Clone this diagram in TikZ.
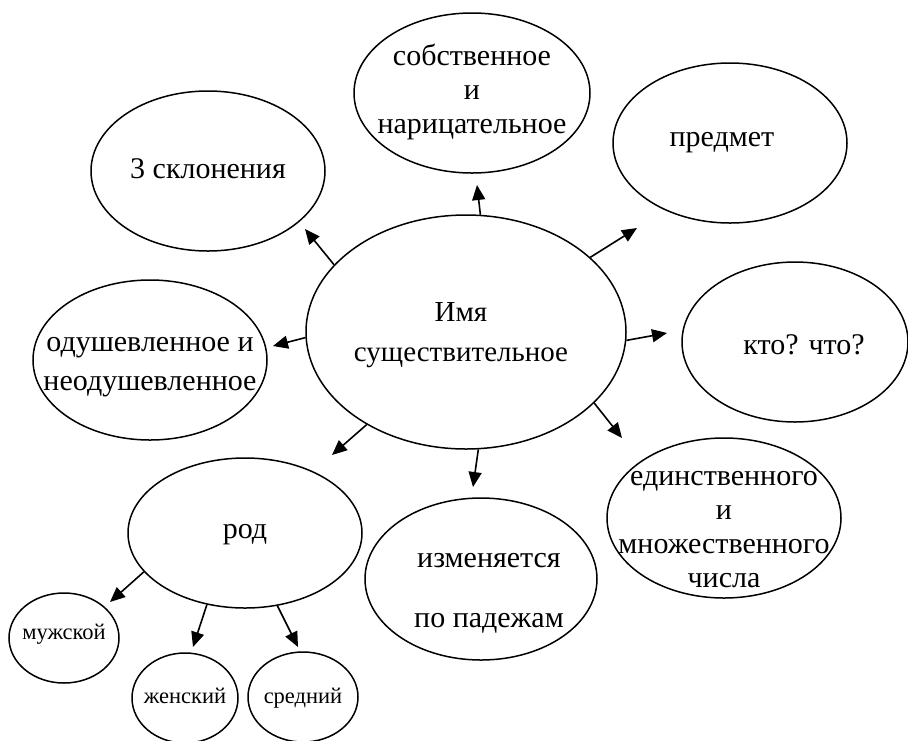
\documentclass[tikz,border=0pt]{standalone}
\usepackage{fontspec}
\setmainfont{Liberation Serif}
\newfontfamily\tnr{Liberation Serif}
\usetikzlibrary{shapes.geometric,arrows.meta}
\begin{document}
\begin{tikzpicture}[x=1pt,y=-1pt,
  ell/.style={draw,ellipse,line width=1.5pt,inner sep=0pt},
  big/.style={align=center,font=\tnr\fontsize{30}{34}\selectfont,inner sep=0pt},
  small/.style={align=center,font=\tnr\fontsize{22.5}{26}\selectfont,inner sep=0pt},
  arr/.style={line width=1.6pt,-{Triangle[length=15pt,width=13pt]}}]
\useasboundingbox (0,0) rectangle (908,740);
\fill[white] (0,0) rectangle (908,740);

\node[ell,minimum width=320pt,minimum height=234pt,
  label={[big,font=\tnr\fontsize{29}{40}\selectfont,xshift=-5pt,yshift=-3.5pt]center:Имя\\существительное}] (c) at (466,332) {};
\node[ell,minimum width=236pt,minimum height=160pt,
  label={[big,yshift=1pt]center:собственное\\и\\нарицательное}] (sob) at (472,93) {};
\node[ell,minimum width=234pt,minimum height=160pt,
  label={[big,xshift=-8pt,yshift=0pt]center:предмет}] (pred) at (730,143) {};
\node[ell,minimum width=234pt,minimum height=160pt,
  label={[big,yshift=2pt]center:3 склонения}] (skl) at (208,171) {};
\node[ell,minimum width=234pt,minimum height=160pt,
  label={[big,font=\tnr\fontsize{30}{39}\selectfont,yshift=-7.5pt]center:одушевленное и\\неодушевленное}] (odu) at (150,360) {};
\node[ell,minimum width=226pt,minimum height=160pt,
  label={[big,xshift=9pt,yshift=-3pt]center:кто? что?}] (kto) at (795,342) {};
\node[ell,minimum width=234pt,minimum height=160pt,
  label={[big,yshift=-12pt]center:единственного\\и\\множественного\\числа}] (edi) at (724,518) {};
\node[ell,minimum width=234pt,minimum height=150pt,
  label={[big,yshift=-2pt]center:род}] (rod) at (245,533) {};
\node[ell,minimum width=232pt,minimum height=162pt,
  label={[big,font=\tnr\fontsize{30}{60}\selectfont,xshift=8pt,yshift=-14pt]center:изменяется\\по падежам}] (izm) at (481,579) {};
\node[ell,minimum width=110pt,minimum height=90pt,
  label={[small,yshift=4pt]center:мужской}] (muz) at (64,638) {};
\node[ell,minimum width=106pt,minimum height=90pt,
  label={[small,yshift=2pt]center:женский}] (zhen) at (185,698) {};
\node[ell,minimum width=110pt,minimum height=90pt,
  label={[small,yshift=-1pt]center:средний}] (sred) at (303,697) {};

\coordinate (tskl) at (305,229);
\coordinate (tsob) at (477,185);
\coordinate (tpred) at (637,228);
\coordinate (tkto) at (667,333);
\coordinate (tedi) at (622,438);
\coordinate (tizm) at (473,487);
\coordinate (trod) at (332,455);
\coordinate (todu) at (273,346);
\coordinate (tmuz) at (110,602);
\coordinate (tzhen) at (193,647);
\coordinate (tsred) at (298,647);

\draw[arr] (c.153) -- (tskl);
\draw[arr] (c.83) -- (tsob);
\draw[arr] (c.31) -- (tpred);
\draw[arr] (c.-3) -- (tkto);
\draw[arr] (c.-29) -- (tedi);
\draw[arr] (c.-84) -- (tizm);
\draw[arr] (c.223) -- (trod);
\draw[arr] (c.182) -- (todu);
\draw[arr] (rod.201) -- (tmuz);
\draw[arr] (rod.242) -- (tzhen);
\draw[arr] (rod.294) -- (tsred);
\end{tikzpicture}
\end{document}
